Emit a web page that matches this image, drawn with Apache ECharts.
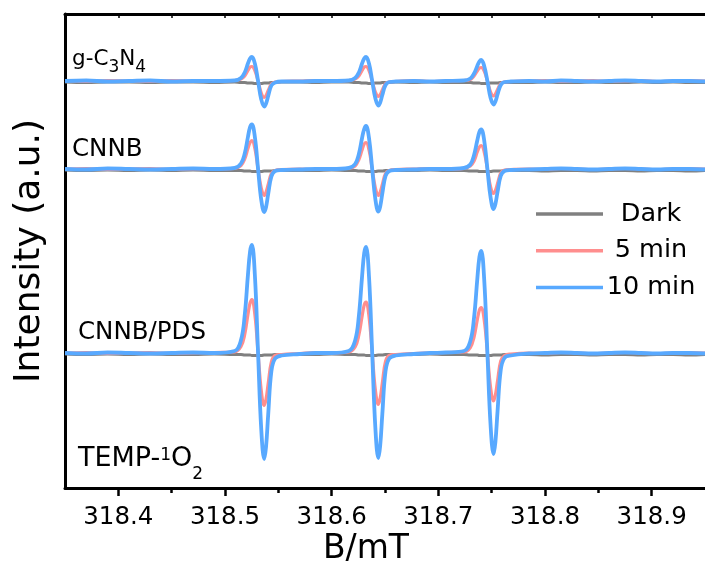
<!DOCTYPE html>
<html><head><meta charset="utf-8">
<script src="https://cdn.jsdelivr.net/npm/echarts@6/dist/echarts.min.js"></script>
<style>html,body{margin:0;padding:0;background:#fff}#c{width:705px;height:571px}</style>
</head><body><div id="c"></div>
<script>
// magnetic field (mT)
const fieldB = [318.35, 318.37, 318.39, 318.41, 318.43, 318.45, 318.47, 318.49,
 318.509, 318.515, 318.5185, 318.5215, 318.5235, 318.5252, 318.528, 318.531, 318.534, 318.5368, 318.5385, 318.5405, 318.5435, 318.547, 318.553,
 318.57, 318.585, 318.60,
 318.616, 318.622, 318.6255, 318.6285, 318.6305, 318.6322, 318.635, 318.638, 318.641, 318.6438, 318.6455, 318.6475, 318.6505, 318.654, 318.66,
 318.677, 318.692, 318.707,
 318.724, 318.73, 318.7335, 318.7365, 318.7385, 318.7402, 318.743, 318.746, 318.749, 318.7518, 318.7535, 318.7555, 318.7585, 318.762, 318.768,
 318.785, 318.80, 318.815, 318.83, 318.845, 318.86, 318.875, 318.89, 318.905, 318.92, 318.935, 318.95];

// g-C3N4 (stacked intensity, a.u.)
const gDark = [406, 405.5, 406, 406, 405.5, 406, 406, 405.5,
 406, 405.5, 405.5, 405, 405, 405, 404.5, 404.5, 404.5, 405, 405, 405, 405.5, 405.5, 406,
 406, 405.5, 406,
 406, 405.5, 405.5, 405, 405, 405, 404.5, 404.5, 405, 405, 405, 405.5, 405.5, 405.5, 406,
 405.5, 406, 405.5,
 405.5, 405.5, 405, 405, 405, 404.5, 404.5, 404.5, 405, 405, 405, 405, 405.5, 405.5, 405.5,
 405.5, 406, 405.5, 405.5, 406, 405.5, 405.5, 406, 405.5, 406, 405.5, 405.5];
const g5min = [407.5, 406.5, 407.5, 407, 406.5, 407.5, 407, 407,
 407.5, 409, 412, 417.5, 421, 421.5, 417.5, 407, 395, 390.5, 392.5, 397.5, 404, 406, 406.5,
 407, 407.5, 406.5,
 407.5, 409, 412, 417.5, 421, 421.5, 417.5, 407, 396, 391.5, 393.5, 398, 404.5, 406, 406.5,
 407.5, 406.5, 407,
 407.5, 408.5, 412, 417, 420, 420.5, 417, 407, 396, 392, 394, 398.5, 404.5, 406, 406.5,
 407, 407.5, 406.5, 407, 407.5, 406.5, 407, 407.5, 406.5, 407, 407.5, 407];
const g10min = [407, 407.5, 406.5, 407, 407.5, 406.5, 407, 407,
 407.5, 410, 415.5, 424.5, 429.5, 431, 424.5, 407, 388.5, 381.5, 384.5, 392, 402.5, 405.5, 406.5,
 406.5, 407, 407,
 407.5, 410, 415.5, 424.5, 429.5, 431, 424.5, 407, 389.5, 382.5, 385.5, 393, 403, 406, 406.5,
 407, 406.5, 407,
 407.5, 409.5, 414.5, 422, 426.5, 428, 422, 407, 390, 383.5, 386.5, 393.5, 403, 406, 406.5,
 407, 406.5, 407.5, 407, 406.5, 407, 407.5, 407, 406.5, 407, 407, 406.5];

// CNNB
const cDark = [318, 317.5, 318, 317.5, 318, 317.5, 318, 317.5,
 317.5, 317.5, 317, 317, 317, 316.5, 316.5, 316.5, 316.5, 317, 317, 317, 317, 317.5, 317.5,
 317.5, 317.5, 318,
 317.5, 317.5, 317, 317, 317, 316.5, 316.5, 316.5, 316.5, 317, 317, 317, 317.5, 317.5, 317.5,
 317.5, 318, 317.5,
 317.5, 317, 317, 317, 316.5, 316.5, 316.5, 316.5, 316.5, 317, 317, 317, 317, 317.5, 317.5,
 317.5, 317, 317.5, 317.5, 317, 317.5, 317.5, 317, 317.5, 317.5, 317, 317.5];
const c5min = [319, 319.5, 318.5, 319, 319.5, 318.5, 319, 319,
 319.5, 322.5, 329, 339.5, 345.5, 347.5, 339.5, 319, 300, 292.5, 296, 303.5, 314.5, 317.5, 318.5,
 319, 318.5, 319.5,
 319.5, 322, 328.5, 338, 344, 345.5, 338, 319, 300, 292.5, 296, 303.5, 314.5, 317.5, 318.5,
 319, 319.5, 318.5,
 319.5, 322, 327, 336, 341, 342.5, 336, 319, 301, 294.5, 297.5, 304.5, 315, 318, 318.5,
 319, 318.5, 319.5, 319, 318.5, 319, 319.5, 319, 318.5, 319, 319.5, 319];
const c10min = [319, 318.5, 319.5, 319, 318.5, 319, 319.5, 319,
 320, 324.5, 334.5, 351, 361, 363.5, 351, 319, 288, 276, 281, 294, 311.5, 317, 318,
 318.5, 319, 319,
 320, 324, 334, 350, 359, 362, 350, 319, 288.5, 276.5, 281.5, 294.5, 312, 317, 318,
 318.5, 319, 319,
 320, 323.5, 333, 347.5, 356, 358.5, 347.5, 319, 290.5, 279, 284, 296, 312, 317, 318,
 318.5, 319, 319.5, 319, 318.5, 319, 319.5, 319, 318.5, 319, 319, 318.5];

// CNNB/PDS
const pDark = [134, 133.5, 134, 133.5, 134, 133.5, 133.5, 134,
 133.5, 133.5, 133, 133, 133, 132.5, 132.5, 132.5, 132.5, 133, 133, 133, 133, 133.5, 133.5,
 133.5, 133.5, 134,
 133.5, 133.5, 133, 133, 133, 132.5, 132.5, 132.5, 132.5, 133, 133, 133, 133.5, 133.5, 133.5,
 133.5, 134, 133.5,
 133.5, 133, 133, 133, 132.5, 132.5, 132.5, 132.5, 132.5, 133, 133, 133, 133, 133.5, 133.5,
 133.5, 133, 133.5, 133.5, 133, 133.5, 133.5, 133, 133.5, 133.5, 133, 133.5];
const p5min = [135, 135.5, 134.5, 135, 135.5, 134.5, 135, 135.5,
 136, 141.5, 153.5, 173.5, 185, 188.5, 173.5, 135, 97.5, 82.5, 89, 104.5, 126, 132.5, 133.5,
 134.5, 135.5, 135,
 136, 141, 153, 171.5, 183, 186, 171.5, 135, 98, 83.5, 90, 105, 126.5, 132.5, 133.5,
 134.5, 135, 135.5,
 136, 140.5, 151, 168, 178, 180.5, 168, 135, 100.5, 87, 93, 107, 127, 132.5, 134,
 135, 134.5, 135.5, 135, 134.5, 135, 135.5, 135, 134.5, 135, 135.5, 135];
const p10min = [135, 134.5, 135.5, 135, 134.5, 135, 135.5, 135,
 137, 148, 173, 213, 236.5, 243, 213, 135, 58.5, 29, 41.5, 73.5, 117, 129.5, 132.5,
 134, 135, 135,
 137, 147.5, 172, 211.5, 235, 241, 211.5, 135, 59.5, 30, 42.5, 74, 117, 129.5, 132.5,
 134, 135, 135.5,
 137, 147, 170.5, 208.5, 231, 237, 208.5, 135, 62.5, 34, 46, 76.5, 118, 130, 132.5,
 134.5, 135, 135.5, 135, 134.5, 135, 135.5, 135, 134.5, 135, 135, 134.5];

const legendNames = ['Dark', '5 min', '10 min'];
const majorTicks = [318.4, 318.5, 318.6, 318.7, 318.8, 318.9];
const minorTicks = [318.45, 318.55, 318.65, 318.75, 318.85];

const FONT = 'DejaVu Sans';
const colors = {'Dark': '#808080', '5 min': '#FF8E8E', '10 min': '#58A9FF'};
const widths = {'Dark': 3, '5 min': 3.2, '10 min': 3.8};

const groups = [
  ['Dark', [gDark, cDark, pDark]],
  ['5 min', [g5min, c5min, p5min]],
  ['10 min', [g10min, c10min, p10min]]
];
const series = [];
groups.forEach(([name, arrs]) => {
  arrs.forEach(arr => {
    series.push({
      type: 'line', name: name, xAxisIndex: 0, yAxisIndex: 0,
      data: fieldB.map((b, i) => [b, arr[i]]),
      showSymbol: false, symbol: 'none', smooth: 0.4,
      lineStyle: {color: colors[name], width: widths[name]},
      itemStyle: {color: colors[name]},
      emphasis: {disabled: true}, animation: false
    });
  });
});

const chart = echarts.init(document.getElementById('c'), null, {renderer: 'canvas'});
const axisCommon = {type: 'value', min: 318.35, max: 318.95, gridIndex: 0, splitLine: {show: false}};
chart.setOption({
  animation: false,
  backgroundColor: '#fff',
  grid: {left: 65, top: 14, width: 643.5, height: 474, containLabel: false},
  xAxis: [
    Object.assign({}, axisCommon, {
      position: 'bottom',
      axisLine: {show: true, onZero: false, lineStyle: {color: '#000', width: 3}},
      axisTick: {show: true, customValues: majorTicks, length: 8, lineStyle: {color: '#000', width: 2.5}},
      axisLabel: {show: true, customValues: majorTicks, fontFamily: FONT, fontSize: 24.5, color: '#000', margin: 17,
                  formatter: v => Number(v).toFixed(1)}
    }),
    Object.assign({}, axisCommon, {
      position: 'bottom',
      axisLine: {show: false, onZero: false},
      axisTick: {show: true, customValues: minorTicks, length: 5, lineStyle: {color: '#000', width: 2.5}},
      axisLabel: {show: false}
    }),
    Object.assign({}, axisCommon, {
      position: 'top',
      axisLine: {show: true, onZero: false, lineStyle: {color: '#000', width: 3}},
      axisTick: {show: true, inside: true, customValues: majorTicks.concat(minorTicks), length: 4, lineStyle: {color: '#000', width: 1.5}},
      axisLabel: {show: false}
    })
  ],
  yAxis: [{
    type: 'value', min: 0, max: 474, position: 'left',
    axisLine: {show: true, onZero: false, lineStyle: {color: '#000', width: 3}},
    axisTick: {show: false}, axisLabel: {show: false}, splitLine: {show: false}
  }],
  legend: {
    data: legendNames, orient: 'vertical', left: 531, top: 194,
    itemWidth: 67, itemHeight: 3.5, itemGap: 6.7, icon: 'rect', selectedMode: false,
    itemStyle: {borderWidth: 0},
    formatter: n => '{c|' + n + '}',
    textStyle: {fontFamily: FONT, fontSize: 25.5, color: '#000', lineHeight: 30,
      rich: {c: {width: 86, align: 'center', fontFamily: FONT, fontSize: 25.5, color: '#000', lineHeight: 30}}}
  },
  graphic: [
    {type: 'text', x: 30, y: 251, rotation: Math.PI / 2, silent: true,
     style: {text: 'Intensity (a.u.)', fontFamily: FONT, fontSize: 36, fill: '#000',
             align: 'center', verticalAlign: 'middle', textAlign: 'center', textVerticalAlign: 'middle'}},
    {type: 'text', x: 366, y: 549, silent: true,
     style: {text: 'B/mT', fontFamily: FONT, fontSize: 33, fill: '#000',
             align: 'center', verticalAlign: 'middle', textAlign: 'center', textVerticalAlign: 'middle'}},
    {type: 'text', x: 72, y: 48.7, silent: true,
     style: {text: '{m|g-C}{s|3}{m|N}{s|4}', fill: '#000', align: 'left', verticalAlign: 'top',
             rich: {m: {fontFamily: FONT, fontSize: 21.5, lineHeight: 24, verticalAlign: 'top', fill: '#000'},
                    s: {fontFamily: FONT, fontSize: 17, lineHeight: 17, verticalAlign: 'top', padding: [10.5, 0, 0, 0], fill: '#000'}}}},
    {type: 'text', x: 72, y: 137, silent: true,
     style: {text: '{m|CNNB}', fill: '#000', align: 'left', verticalAlign: 'top',
             rich: {m: {fontFamily: FONT, fontSize: 24.5, lineHeight: 24, verticalAlign: 'top', fill: '#000'}}}},
    {type: 'text', x: 78, y: 320.5, silent: true,
     style: {text: '{m|CNNB/PDS}', fill: '#000', align: 'left', verticalAlign: 'top',
             rich: {m: {fontFamily: FONT, fontSize: 24.5, lineHeight: 24, verticalAlign: 'top', fill: '#000'}}}},
    {type: 'text', x: 78, y: 445, silent: true,
     style: {text: '{m|TEMP-}{p|1}{m|O}{s|2}', fill: '#000', align: 'left', verticalAlign: 'top',
             rich: {m: {fontFamily: FONT, fontSize: 27, lineHeight: 28, verticalAlign: 'top', fill: '#000'},
                    p: {fontFamily: FONT, fontSize: 17, lineHeight: 17, verticalAlign: 'top', padding: [2.5, 0, 0, 0], fill: '#000'},
                    s: {fontFamily: FONT, fontSize: 17, lineHeight: 17, verticalAlign: 'top', padding: [21, 0, 0, 0], fill: '#000'}}}}
  ],
  series: series
});
</script></body></html>
